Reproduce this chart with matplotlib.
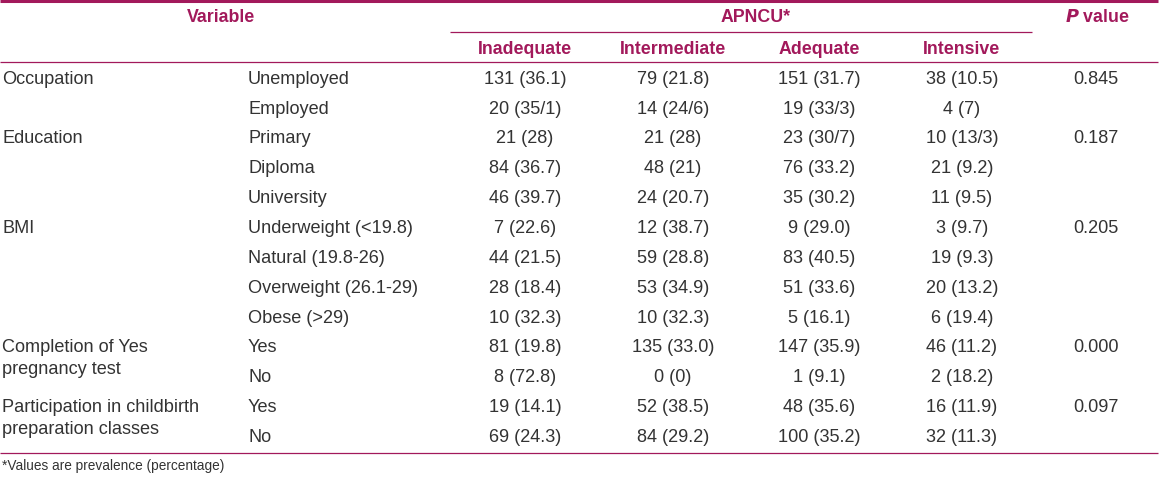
import matplotlib.pyplot as plt

plt.rcParams['font.family'] = ['Liberation Sans', 'DejaVu Sans']

# table contents
variables = ['Occupation', 'Education', 'BMI', 'Completion of Yes\npregnancy test',
             'Participation in childbirth\npreparation classes']
var_rows = [0, 2, 5, 9, 11]
p_values = ['0.845', '0.187', '0.205', '0.000', '0.097']

subcats = ['Unemployed', 'Employed', 'Primary', 'Diploma', 'University',
           'Underweight (<19.8)', 'Natural (19.8-26)', 'Overweight (26.1-29)',
           'Obese (>29)', 'Yes', 'No', 'Yes', 'No']

inadequate = ['131 (36.1)', '20 (35/1)', '21 (28)', '84 (36.7)', '46 (39.7)', '7 (22.6)',
              '44 (21.5)', '28 (18.4)', '10 (32.3)', '81 (19.8)', '8 (72.8)', '19 (14.1)',
              '69 (24.3)']
intermediate = ['79 (21.8)', '14 (24/6)', '21 (28)', '48 (21)', '24 (20.7)', '12 (38.7)',
                '59 (28.8)', '53 (34.9)', '10 (32.3)', '135 (33.0)', '0 (0)', '52 (38.5)',
                '84 (29.2)']
adequate = ['151 (31.7)', '19 (33/3)', '23 (30/7)', '76 (33.2)', '35 (30.2)', '9 (29.0)',
            '83 (40.5)', '51 (33.6)', '5 (16.1)', '147 (35.9)', '1 (9.1)', '48 (35.6)',
            '100 (35.2)']
intensive = ['38 (10.5)', '4 (7)', '10 (13/3)', '21 (9.2)', '11 (9.5)', '3 (9.7)',
             '19 (9.3)', '20 (13.2)', '6 (19.4)', '46 (11.2)', '2 (18.2)', '16 (11.9)',
             '32 (11.3)']

col_names = ['Inadequate', 'Intermediate', 'Adequate', 'Intensive']
footnote = '*Values are prevalence (percentage)'

magenta = '#a2195b'
body = '#333333'
fs_head = 12.8
fs = 13.1

W, H = 1160, 481
fig = plt.figure(figsize=(W / 100, H / 100), dpi=100)
ax = fig.add_axes([0, 0, 1, 1])
ax.set_xlim(0, W)
ax.set_ylim(H, 0)
ax.axis('off')

# header
ax.hlines(1.5, 0, 1158, color=magenta, lw=2.2)
ax.text(221, 17, 'Variable', color=magenta, fontweight='bold', fontsize=fs_head,
        ha='center', va='center')
ax.text(756, 17, 'APNCU*', color=magenta, fontweight='bold', fontsize=fs_head,
        ha='center', va='center')
ax.text(1097, 17, r'$\bfit{P}$ value', color=magenta, fontweight='bold', fontsize=fs_head,
        ha='center', va='center')
ax.hlines(32.5, 450, 1032, color=magenta, lw=0.9)
col_x = [525, 673, 819, 962]
for x, name in zip(col_x, col_names):
    ax.text(x, 49, name, color=magenta, fontweight='bold', fontsize=fs_head,
            ha='center', va='center')
ax.hlines(62.5, 0, 1158, color=magenta, lw=0.9)

# body
row_y = [79, 109, 139, 169, 199, 229, 259, 289, 319, 348, 378, 408, 438]
for i, y in enumerate(row_y):
    ax.text(248, y, subcats[i], color=body, fontsize=fs, ha='left', va='center')
    for x, col in zip(col_x, [inadequate, intermediate, adequate, intensive]):
        ax.text(x, y, col[i], color=body, fontsize=fs, ha='center', va='center')

for r, name, p in zip(var_rows, variables, p_values):
    y = row_y[r]
    lines = name.split('\n')
    for k, line in enumerate(lines):
        ax.text(2, y + 22 * k, line, color=body, fontsize=fs, ha='left', va='center')
    ax.text(1096, y, p, color=body, fontsize=fs, ha='center', va='center')

ax.hlines(453.5, 0, 1158, color=magenta, lw=0.9)
ax.text(2, 466, footnote, color=body, fontsize=9.8, ha='left', va='center')

fig.savefig('out.png', dpi=100)
